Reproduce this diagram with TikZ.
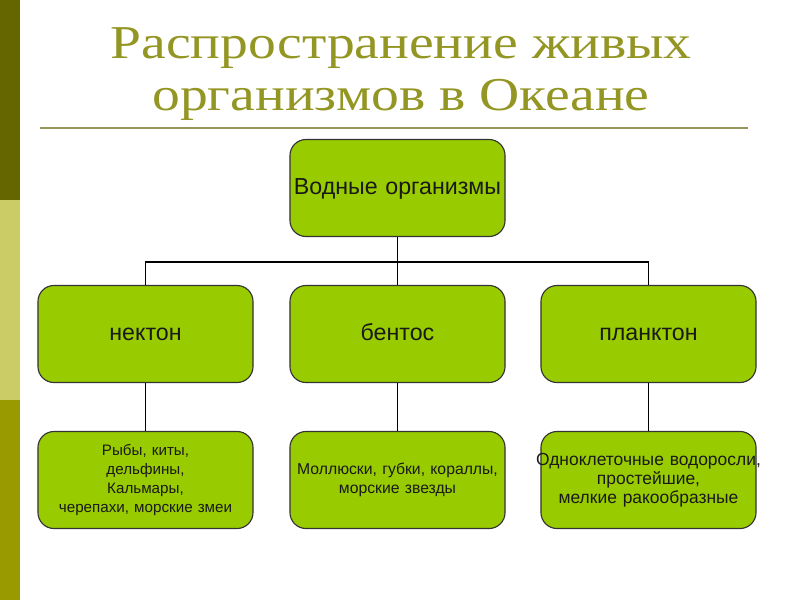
\documentclass[tikz,border=0pt]{standalone}
\usepackage{fontspec}
\setmainfont{Liberation Serif}
\setsansfont{Liberation Sans}
\usepackage{xcolor}
\usepackage{graphicx}
\usepackage{tikz}
\usetikzlibrary{shapes,arrows,positioning,calc}

\definecolor{stripdark}{RGB}{102,102,0}
\definecolor{striplight}{RGB}{204,204,102}
\definecolor{stripolive}{RGB}{153,153,0}
\definecolor{titleolive}{RGB}{148,150,36}
\definecolor{ruleolive}{RGB}{150,150,90}
\definecolor{boxgreen}{RGB}{153,204,0}

\tikzset{
    greenbox/.style={draw=black!80, line width=0.8pt, fill=boxgreen, rounded corners=0.4cm,
        text width=5.375cm, minimum height=2.425cm, inner sep=0pt, align=center, text=black!90},
    orgbox/.style={greenbox, font=\sffamily\fontsize{16.5}{19}\selectfont,
        text height=8.6pt, text depth=0pt},
    subbox/.style={greenbox, font=\sffamily\fontsize{#1}{13.7}\selectfont},
    link/.style={line width=1.3pt, black},
    titletext/.style={anchor=base, text=titleolive, font=\fontsize{33.5}{37}\selectfont}
}

\begin{document}
\begin{tikzpicture}[x=0.025cm, y=-0.025cm]
    \useasboundingbox (0,0) rectangle (800,600);
    \fill[white] (0,0) rectangle (800,600);

    % Side strip
    \fill[stripdark] (0,0) rectangle (20,200);
    \fill[striplight] (0,200) rectangle (20,400);
    \fill[stripolive] (0,400) rectangle (20,600);

    % Title
    \node[titletext] (title1) at (401,58) {\scalebox{1.18}[1]{Распространение живых}};
    \node[titletext] (title2) at (401,110) {\scalebox{1.18}[1]{организмов в Океане}};
    \draw[ruleolive, line width=1.5pt] (40,128) -- (748,128);

    % Boxes
    \node[orgbox] (water) at (397.5,188) {Водные организмы};
    \node[orgbox] (nekton) at (145.5,334) {нектон};
    \node[orgbox] (benthos) at (397.5,334) {бентос};
    \node[orgbox] (plankton) at (648.5,334) {планктон};
    \node[subbox=10.8] (fish) at (145.5,480) {Рыбы, киты,\\ дельфины,\\ Кальмары,\\ черепахи, морские змеи};
    \node[subbox=11.2] (shells) at (397.5,480) {Моллюски, губки, кораллы,\\ морские звезды};
    \node[subbox=12.4] (algae) at (648.5,480) {\makebox[\linewidth]{Одноклеточные водоросли,}\\ простейшие,\\ мелкие ракообразные};

    % Links
    \coordinate (split) at ($(water.south)!0.52!(benthos.north)$);
    \draw[link] (water.south) -- (benthos.north);
    \draw[link] (nekton.north) |- (split) -| (plankton.north);
    \draw[link] (nekton.south) -- (fish.north);
    \draw[link] (benthos.south) -- (shells.north);
    \draw[link] (plankton.south) -- (algae.north);
\end{tikzpicture}
\end{document}
